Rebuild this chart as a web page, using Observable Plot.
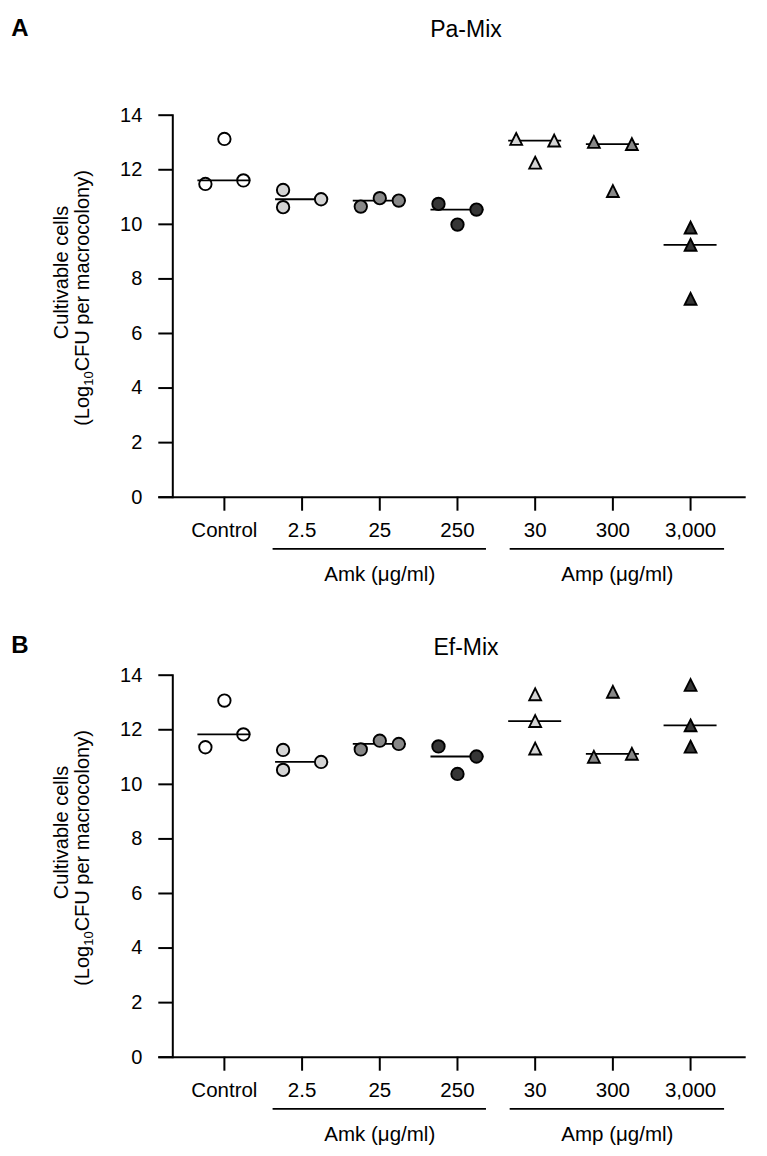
<!DOCTYPE html>
<html>
<head>
<meta charset="utf-8">
<script src="https://cdn.jsdelivr.net/npm/d3@7"></script>
<script src="https://cdn.jsdelivr.net/npm/@observablehq/plot@0.6"></script>
<style>
  body { margin: 0; background: #ffffff; font-family: "Liberation Sans", Arial, Helvetica, sans-serif; }
  #chart { width: 767px; }
  #chart svg { display: block; overflow: visible; }
</style>
</head>
<body>
<div id="chart"></div>
<script>
// Treatments along the x axis
const categories = ["Control", "2.5", "25", "250", "30", "300", "3,000"];
const drugs = ["", "Amk", "Amk", "Amk", "Amp", "Amp", "Amp"];
const drugLabels = { Amk: "Amk (μg/ml)", Amp: "Amp (μg/ml)" };

// Cultivable cells, log10 CFU per macrocolony (three replicates per treatment)
const paMix = [
  [11.48, 13.13, 11.61],
  [11.26, 10.92, 10.63],
  [10.65, 10.87, 10.96],
  [10.75, 9.99, 10.54],
  [13.13, 12.26, 13.07],
  [13.02, 11.22, 12.94],
  [9.88, 9.25, 7.27]
];
const efMix = [
  [11.36, 13.07, 11.83],
  [11.26, 10.82, 10.53],
  [11.28, 11.48, 11.60],
  [11.39, 10.38, 11.02],
  [13.30, 12.32, 11.31],
  [13.39, 11.01, 11.12],
  [13.64, 12.16, 11.38]
];
const yTicks = [0, 2, 4, 6, 8, 10, 12, 14];

// Styling
const FONT = "Liberation Sans, Arial, Helvetica, sans-serif";
const shades = ["none", "#d4d4d4", "#888888", "#363636", "#d4d4d4", "#888888", "#363636"];
const spanPad = { Amk: [29, 29], Amp: [25, 34] };   // px beyond first/last tick
const triangle = {
  draw(ctx, size) {
    const r = Math.sqrt(size / Math.PI);
    ctx.moveTo(0, -r);
    ctx.lineTo(r, r);
    ctx.lineTo(-r, r);
    ctx.closePath();
  }
};

// Spread replicates that would overlap into side columns (-1, +1, 0)
function arrange(reps, minGap) {
  const order = d3.range(reps.length).sort((a, b) => reps[a] - reps[b]);
  const clusterOf = new Array(reps.length);
  let c = 0;
  order.forEach((k, j) => {
    if (j > 0 && reps[k] - reps[order[j - 1]] >= minGap) c++;
    clusterOf[k] = c;
  });
  const cols = new Array(reps.length).fill(0);
  const placed = [];
  for (let cl = 0; cl <= c; cl++) {
    const members = d3.range(reps.length).filter(k => clusterOf[k] === cl);
    if (members.length === 1) { cols[members[0]] = 0; placed.push(members[0]); continue; }
    for (const k of members) {
      for (const col of [-1, 1, 0]) {
        const clash = placed.some(p => cols[p] === col && Math.abs(reps[p] - reps[k]) < minGap);
        if (!clash) { cols[k] = col; break; }
      }
      placed.push(k);
    }
  }
  return cols;
}

function panel({ letter, title, values, height, marginTop, letterY, titleY }) {
  const width = 767, marginLeft = 172.3, marginRight = 21.3;
  const plotH = 382;
  const marginBottom = height - marginTop - plotH;
  const xDomain = [-0.664, 6.716];
  const pxX = (width - marginLeft - marginRight) / (xDomain[1] - xDomain[0]);
  const pxY = plotH / 14;
  const colStep = 19 / pxX;
  const minGap = 14 / pxY;
  const half = 26.5 / pxX;

  const points = [];
  const medians = [];
  values.forEach((reps, i) => {
    const cols = arrange(reps, minGap);
    reps.forEach((v, k) => points.push({ i, v, x: i + cols[k] * colStep }));
    medians.push({ i, m: d3.median(reps) });
  });

  const spans = ["Amk", "Amp"].map(g => {
    const idx = d3.range(categories.length).filter(i => drugs[i] === g);
    const a = d3.min(idx) - spanPad[g][0] / pxX, b = d3.max(idx) + spanPad[g][1] / pxX;
    return { label: drugLabels[g], a, b, mid: (a + b) / 2 };
  });

  const dotMarks = categories.map((c, i) => Plot.dot(points.filter(p => p.i === i), {
    x: "x", y: "v", r: drugs[i] === "Amp" ? 5.9 : 6.2,
    symbol: drugs[i] === "Amp" ? triangle : "circle",
    fill: shades[i], stroke: "#000", strokeWidth: 1.9
  }));

  const chart = Plot.plot({
    width, height, marginTop, marginBottom, marginLeft, marginRight,
    style: { fontFamily: FONT, fontSize: "20px", color: "#000", background: "transparent" },
    x: { domain: xDomain },
    y: { domain: [0, 14] },
    marks: [
      Plot.frame({ anchor: "left", strokeWidth: 2 }),
      Plot.ruleY([0], { x1: xDomain[0] - 14 / pxX, x2: xDomain[1], strokeWidth: 2 }),
      Plot.axisY({ ticks: yTicks, tickSize: 14, tickPadding: 16.5, fontSize: 20, strokeWidth: 2, label: null }),
      Plot.axisX({ ticks: d3.range(categories.length), tickFormat: i => categories[i], tickSize: 14, tickPadding: 11, fontSize: 20.5, strokeWidth: 2, label: null }),
      Plot.ruleY(medians, { y: "m", x1: d => d.i - half, x2: d => d.i + half, strokeWidth: 1.8 }),
      ...dotMarks,
      Plot.ruleY(spans, { y: () => 0, x1: "a", x2: "b", dy: 51.6, strokeWidth: 1.8 }),
      Plot.text(spans, { x: "mid", y: () => 0, text: "label", dy: 76.9, fontSize: 20.5 })
    ]
  });

  const svg = d3.select(chart);
  // panel letter and title
  svg.append("text").attr("x", 20).attr("y", letterY)
    .attr("font-size", 24).attr("font-weight", "bold").attr("font-family", FONT).text(letter);
  svg.append("text").attr("x", 466).attr("y", titleY).attr("text-anchor", "middle")
    .attr("font-size", 23).attr("font-family", FONT).text(title);
  // y axis title, two lines
  svg.append("text").attr("transform", `translate(68.3,${marginTop + 157.8}) rotate(-90)`)
    .attr("text-anchor", "middle").attr("font-size", 20).attr("font-family", FONT)
    .text("Cultivable cells");
  const t2 = svg.append("text").attr("transform", `translate(89.3,${marginTop + 183.3}) rotate(-90)`)
    .attr("text-anchor", "middle").attr("font-size", 20).attr("font-family", FONT);
  t2.append("tspan").text("(Log");
  t2.append("tspan").attr("dy", 4).attr("font-size", 13).text("10");
  t2.append("tspan").attr("dy", -4).text("CFU per macrocolony)");
  return chart;
}

const root = document.getElementById("chart");
root.appendChild(panel({ letter: "A", title: "Pa-Mix", values: paMix, height: 590, marginTop: 114.7, letterY: 36, titleY: 37 }));
root.appendChild(panel({ letter: "B", title: "Ef-Mix", values: efMix, height: 566, marginTop: 84.7, letterY: 63, titleY: 65 }));
</script>
</body>
</html>
